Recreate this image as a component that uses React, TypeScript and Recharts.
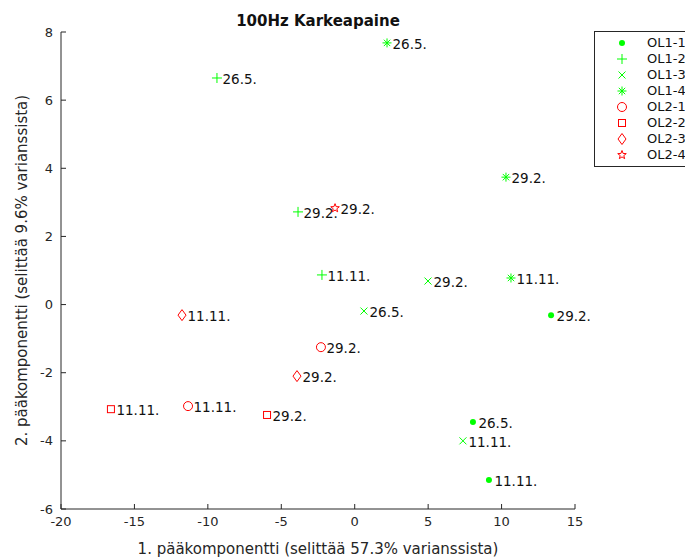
import { ScatterChart, Scatter, XAxis, YAxis, Legend, Label } from "recharts";

type Pt = { x: number; y: number; date: string };

const xTicks = [-20, -15, -10, -5, 0, 5, 10, 15];
const yTicks = [-6, -4, -2, 0, 2, 4, 6, 8];

// PCA scores
const ol11: Pt[] = [
  { x: 8.05, y: -3.45, date: "26.5." },
  { x: 13.37, y: -0.31, date: "29.2." },
  { x: 9.14, y: -5.15, date: "11.11." },
];
const ol12: Pt[] = [
  { x: -9.38, y: 6.65, date: "26.5." },
  { x: -3.86, y: 2.72, date: "29.2." },
  { x: -2.23, y: 0.87, date: "11.11." },
];
const ol13: Pt[] = [
  { x: 0.63, y: -0.19, date: "26.5." },
  { x: 4.99, y: 0.69, date: "29.2." },
  { x: 7.37, y: -4.0, date: "11.11." },
];
const ol14: Pt[] = [
  { x: 2.2, y: 7.68, date: "26.5." },
  { x: 10.3, y: 3.74, date: "29.2." },
  { x: 10.64, y: 0.78, date: "11.11." },
];
const ol21: Pt[] = [
  { x: -2.3, y: -1.25, date: "29.2." },
  { x: -11.35, y: -2.98, date: "11.11." },
];
const ol22: Pt[] = [
  { x: -16.6, y: -3.07, date: "11.11." },
  { x: -5.97, y: -3.24, date: "29.2." },
];
const ol23: Pt[] = [
  { x: -11.76, y: -0.31, date: "11.11." },
  { x: -3.93, y: -2.1, date: "29.2." },
];
const ol24: Pt[] = [{ x: -1.34, y: 2.83, date: "29.2." }];

const names = ["OL1-1", "OL1-2", "OL1-3", "OL1-4", "OL2-1", "OL2-2", "OL2-3", "OL2-4"];
const kinds = ["dot", "plus", "cross", "asterisk", "circle", "square", "diamond", "pentagram"];
const seriesData = [ol11, ol12, ol13, ol14, ol21, ol22, ol23, ol24];

const GREEN = "#00ff00";
const RED = "#ff0000";
const colors = [GREEN, GREEN, GREEN, GREEN, RED, RED, RED, RED];

const FONT = "DejaVu Sans";
const INK = "#262626";

function marker(kind: string, cx: number, cy: number, color: string) {
  const line = { stroke: color, strokeWidth: 1, fill: "none" };
  switch (kind) {
    case "dot":
      return <circle cx={cx} cy={cy} r={3} fill={color} />;
    case "plus":
      return <path d={`M${cx - 5},${cy}H${cx + 5}M${cx},${cy - 5}V${cy + 5}`} {...line} />;
    case "cross":
      return (
        <path
          d={`M${cx - 3.5},${cy - 3.5}L${cx + 3.5},${cy + 3.5}M${cx - 3.5},${cy + 3.5}L${cx + 3.5},${cy - 3.5}`}
          {...line}
        />
      );
    case "asterisk":
      return (
        <path
          d={`M${cx - 4.5},${cy}H${cx + 4.5}M${cx},${cy - 4.5}V${cy + 4.5}M${cx - 3.2},${cy - 3.2}L${cx + 3.2},${cy + 3.2}M${cx - 3.2},${cy + 3.2}L${cx + 3.2},${cy - 3.2}`}
          {...line}
        />
      );
    case "circle":
      return <circle cx={cx} cy={cy} r={4.5} {...line} />;
    case "square":
      return <rect x={cx - 3.5} y={cy - 3.5} width={7} height={7} {...line} />;
    case "diamond":
      return (
        <path d={`M${cx},${cy - 5.5}L${cx + 4},${cy}L${cx},${cy + 5.5}L${cx - 4},${cy}Z`} {...line} />
      );
    default: {
      const pts: string[] = [];
      for (let i = 0; i < 10; i++) {
        const r = i % 2 === 0 ? 4.5 : 1.9;
        const a = -Math.PI / 2 + (i * Math.PI) / 5;
        pts.push(`${cx + r * Math.cos(a)},${cy + r * Math.sin(a)}`);
      }
      return <polygon points={pts.join(" ")} {...line} />;
    }
  }
}

function makeShape(kind: string, color: string) {
  return (props: any) => {
    const { cx, cy, payload } = props;
    return (
      <g>
        {marker(kind, cx, cy, color)}
        <text
          x={cx + 5.5}
          y={cy + 1}
          dominantBaseline="central"
          fontFamily={FONT}
          fontSize={13.5}
          fill="#111"
        >
          {payload.date}
        </text>
      </g>
    );
  };
}

function LegendBox() {
  return (
    <div
      style={{
        border: `1px solid ${INK}`,
        background: "#fff",
        padding: "3px 0",
        width: 120,
        fontFamily: FONT,
        fontSize: 13,
        color: "#111",
      }}
    >
      {names.map((n, i) => (
        <div key={n} style={{ display: "flex", alignItems: "center", height: 16 }}>
          <svg width={52} height={16} style={{ flex: "none" }}>
            {marker(kinds[i], 27, 8, colors[i])}
          </svg>
          <span style={{ lineHeight: "16px" }}>{n}</span>
        </div>
      ))}
    </div>
  );
}

export default function App() {
  return (
    <div
      style={{
        position: "absolute",
        left: 0,
        top: 0,
        width: 685,
        height: 560,
        overflow: "hidden",
        background: "#fff",
        fontFamily: FONT,
      }}
    >
      <div
        style={{
          position: "absolute",
          left: 61,
          width: 514,
          top: 11,
          textAlign: "center",
          fontWeight: "bold",
          fontSize: 15,
          lineHeight: "20px",
          color: "#111",
          zIndex: 2,
        }}
      >
        100Hz Karkeapaine
      </div>
      <ScatterChart width={685} height={560} margin={{ top: 32, right: 110, bottom: 6, left: 21 }}>
        <XAxis
          type="number"
          dataKey="x"
          domain={[-20, 15]}
          ticks={xTicks}
          height={45}
          stroke={INK}
          tickSize={-5}
          tickMargin={13}
          tick={{ fontSize: 13, fill: INK, fontFamily: FONT }}
        >
          <Label
            content={(p: any) => {
              const vb = p.viewBox || { x: 61, y: 509, width: 514 };
              return (
                <text
                  x={vb.x + vb.width / 2}
                  y={vb.y + 40}
                  textAnchor="middle"
                  dominantBaseline="central"
                  fontFamily={FONT}
                  fontSize={15}
                  fill={INK}
                >
                  1. pääkomponentti (selittää 57.3% varianssista)
                </text>
              );
            }}
          />
        </XAxis>
        <YAxis
          type="number"
          dataKey="y"
          domain={[-6, 8]}
          ticks={yTicks}
          width={40}
          stroke={INK}
          tickSize={-5}
          tickMargin={13}
          tick={{ fontSize: 13, fill: INK, fontFamily: FONT }}
        >
          <Label
            content={(p: any) => {
              const vb = p.viewBox || { x: 21, y: 32, height: 477 };
              const cx = vb.x + 1;
              const cy = vb.y + vb.height / 2;
              return (
                <text
                  x={cx}
                  y={cy}
                  transform={`rotate(-90 ${cx} ${cy})`}
                  textAnchor="middle"
                  dominantBaseline="central"
                  fontFamily={FONT}
                  fontSize={15}
                  fill={INK}
                >
                  2. pääkomponentti (selittää 9.6% varianssista)
                </text>
              );
            }}
          />
        </YAxis>
        <Legend
          layout="vertical"
          align="center"
          verticalAlign="middle"
          wrapperStyle={{ left: 594, top: 31, width: 120 }}
          content={() => <LegendBox />}
        />
        {seriesData.map((d, i) => (
          <Scatter
            key={names[i]}
            name={names[i]}
            data={d}
            fill={colors[i]}
            shape={makeShape(kinds[i], colors[i])}
            isAnimationActive={false}
          />
        ))}
      </ScatterChart>
    </div>
  );
}
